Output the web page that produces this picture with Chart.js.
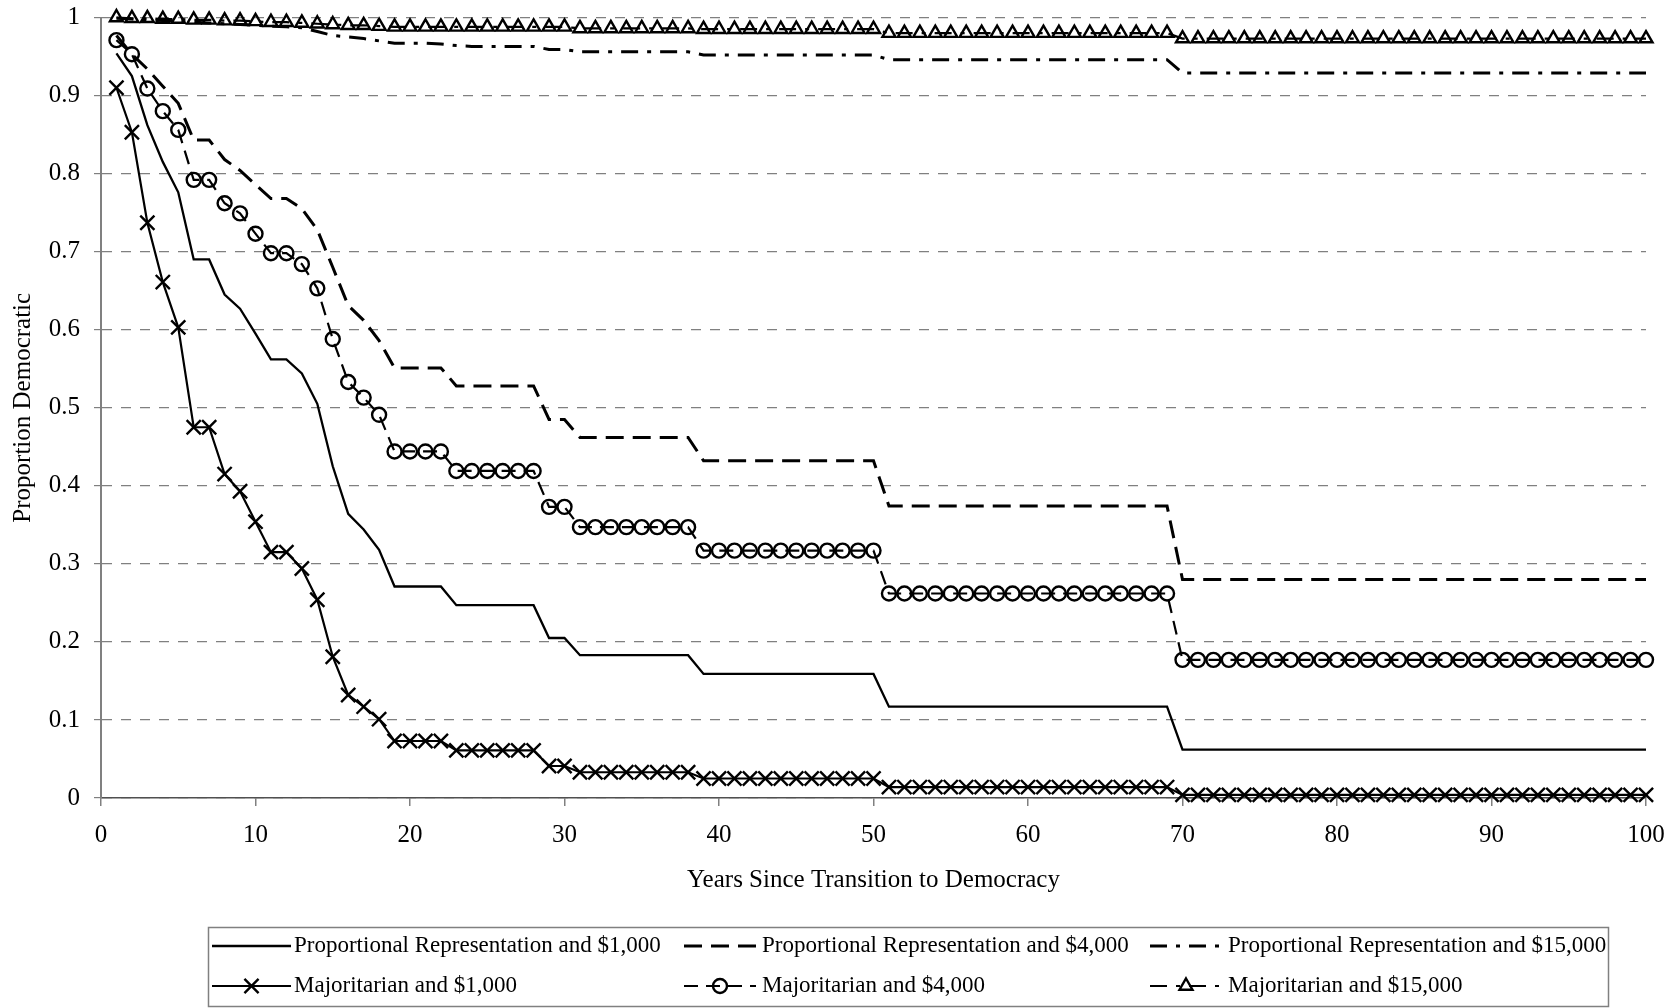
<!DOCTYPE html>
<html>
<head>
<meta charset="utf-8">
<script src="https://cdn.jsdelivr.net/npm/chart.js"></script>
<style>
html,body{margin:0;padding:0;background:#fff;}
#wrap{width:1679px;height:1008px;position:relative;}
canvas{display:block;}
</style>
</head>
<body>
<div id="wrap"><canvas id="c" width="1679" height="1008"></canvas></div>
<script>
// ---- data ----
const years = [1,2,3,4,5,6,7,8,9,10,11,12,13,14,15,16,17,18,19,20,21,22,23,24,25,26,27,28,29,30,31,32,33,34,35,36,37,38,39,40,41,42,43,44,45,46,47,48,49,50,51,52,53,54,55,56,57,58,59,60,61,62,63,64,65,66,67,68,69,70,71,72,73,74,75,76,77,78,79,80,81,82,83,84,85,86,87,88,89,90,91,92,93,94,95,96,97,98,99,100];

const pr1000 = [
0.954,0.925,0.862,0.815,0.776,0.690,0.690,0.645,0.627,0.595,
0.562,0.562,0.544,0.505,0.425,0.364,0.344,0.318,0.271,0.271,
0.271,0.271,0.247,0.247,0.247,0.247,0.247,0.247,0.205,0.205,
0.183,0.183,0.183,0.183,0.183,0.183,0.183,0.183,0.159,0.159,
0.159,0.159,0.159,0.159,0.159,0.159,0.159,0.159,0.159,0.159,
0.117,0.117,0.117,0.117,0.117,0.117,0.117,0.117,0.117,0.117,
0.117,0.117,0.117,0.117,0.117,0.117,0.117,0.117,0.117,0.062,
0.062,0.062,0.062,0.062,0.062,0.062,0.062,0.062,0.062,0.062,
0.062,0.062,0.062,0.062,0.062,0.062,0.062,0.062,0.062,0.062,
0.062,0.062,0.062,0.062,0.062,0.062,0.062,0.062,0.062,0.062];

const pr4000 = [
0.977,0.953,0.934,0.912,0.890,0.843,0.843,0.818,0.804,0.786,
0.768,0.768,0.755,0.728,0.680,0.631,0.612,0.586,0.551,0.551,
0.551,0.551,0.528,0.528,0.528,0.528,0.528,0.528,0.485,0.485,
0.462,0.462,0.462,0.462,0.462,0.462,0.462,0.462,0.432,0.432,
0.432,0.432,0.432,0.432,0.432,0.432,0.432,0.432,0.432,0.432,
0.374,0.374,0.374,0.374,0.374,0.374,0.374,0.374,0.374,0.374,
0.374,0.374,0.374,0.374,0.374,0.374,0.374,0.374,0.374,0.280,
0.280,0.280,0.280,0.280,0.280,0.280,0.280,0.280,0.280,0.280,
0.280,0.280,0.280,0.280,0.280,0.280,0.280,0.280,0.280,0.280,
0.280,0.280,0.280,0.280,0.280,0.280,0.280,0.280,0.280,0.280];

const pr15000 = [
0.999,0.998,0.997,0.996,0.995,0.994,0.993,0.992,0.991,0.990,
0.989,0.988,0.987,0.982,0.977,0.975,0.973,0.970,0.967,0.967,
0.967,0.966,0.964,0.963,0.963,0.963,0.963,0.963,0.959,0.959,
0.956,0.956,0.956,0.956,0.956,0.956,0.956,0.956,0.952,0.952,
0.952,0.952,0.952,0.952,0.952,0.952,0.952,0.952,0.952,0.952,
0.946,0.946,0.946,0.946,0.946,0.946,0.946,0.946,0.946,0.946,
0.946,0.946,0.946,0.946,0.946,0.946,0.946,0.946,0.946,0.929,
0.929,0.929,0.929,0.929,0.929,0.929,0.929,0.929,0.929,0.929,
0.929,0.929,0.929,0.929,0.929,0.929,0.929,0.929,0.929,0.929,
0.929,0.929,0.929,0.929,0.929,0.929,0.929,0.929,0.929,0.929];

const maj1000 = [
0.910,0.853,0.737,0.661,0.603,0.475,0.475,0.415,0.393,0.354,
0.315,0.315,0.294,0.254,0.181,0.132,0.117,0.101,0.073,0.073,
0.073,0.073,0.061,0.061,0.061,0.061,0.061,0.061,0.041,0.041,
0.033,0.033,0.033,0.033,0.033,0.033,0.033,0.033,0.025,0.025,
0.025,0.025,0.025,0.025,0.025,0.025,0.025,0.025,0.025,0.025,
0.014,0.014,0.014,0.014,0.014,0.014,0.014,0.014,0.014,0.014,
0.014,0.014,0.014,0.014,0.014,0.014,0.014,0.014,0.014,0.004,
0.004,0.004,0.004,0.004,0.004,0.004,0.004,0.004,0.004,0.004,
0.004,0.004,0.004,0.004,0.004,0.004,0.004,0.004,0.004,0.004,
0.004,0.004,0.004,0.004,0.004,0.004,0.004,0.004,0.004,0.004];

const maj4000 = [
0.971,0.953,0.909,0.880,0.856,0.792,0.792,0.762,0.749,0.723,
0.698,0.698,0.684,0.653,0.588,0.533,0.513,0.491,0.444,0.444,
0.444,0.444,0.419,0.419,0.419,0.419,0.419,0.419,0.373,0.373,
0.347,0.347,0.347,0.347,0.347,0.347,0.347,0.347,0.317,0.317,
0.317,0.317,0.317,0.317,0.317,0.317,0.317,0.317,0.317,0.317,
0.262,0.262,0.262,0.262,0.262,0.262,0.262,0.262,0.262,0.262,
0.262,0.262,0.262,0.262,0.262,0.262,0.262,0.262,0.262,0.177,
0.177,0.177,0.177,0.177,0.177,0.177,0.177,0.177,0.177,0.177,
0.177,0.177,0.177,0.177,0.177,0.177,0.177,0.177,0.177,0.177,
0.177,0.177,0.177,0.177,0.177,0.177,0.177,0.177,0.177,0.177];

const maj15000 = [
1.000,0.999,0.999,0.998,0.998,0.997,0.997,0.996,0.996,0.995,
0.994,0.994,0.993,0.992,0.991,0.990,0.990,0.989,0.988,0.988,
0.988,0.988,0.988,0.988,0.988,0.988,0.988,0.988,0.988,0.988,
0.986,0.986,0.986,0.986,0.986,0.986,0.986,0.986,0.985,0.985,
0.985,0.985,0.985,0.985,0.985,0.985,0.985,0.985,0.985,0.985,
0.980,0.980,0.980,0.980,0.980,0.980,0.980,0.980,0.980,0.980,
0.980,0.980,0.980,0.980,0.980,0.980,0.980,0.980,0.980,0.973,
0.973,0.973,0.973,0.973,0.973,0.973,0.973,0.973,0.973,0.973,
0.973,0.973,0.973,0.973,0.973,0.973,0.973,0.973,0.973,0.973,
0.973,0.973,0.973,0.973,0.973,0.973,0.973,0.973,0.973,0.973];

const seriesLabels = [
  'Proportional Representation and $1,000',
  'Proportional Representation and $4,000',
  'Proportional Representation and $15,000',
  'Majoritarian and $1,000',
  'Majoritarian and $4,000',
  'Majoritarian and $15,000'
];

const xTicks = [0,10,20,30,40,50,60,70,80,90,100];
const yTicks = [0,0.1,0.2,0.3,0.4,0.5,0.6,0.7,0.8,0.9,1];
const xTitle = 'Years Since Transition to Democracy';
const yTitle = 'Proportion Democratic';

// ---- chart ----
const FONT = "'Liberation Serif', 'Times New Roman', serif";
const toPts = vals => years.map((x, i) => ({x: x, y: vals[i]}));

const DASH = [18, 9];
const DASHDOT = [17, 9, 4, 9];
const MDASH = [14, 8];

const datasets = [
  {label: seriesLabels[0], data: toPts(pr1000), borderWidth: 2.3, borderDash: [], pointRadius: 0, order: 5},
  {label: seriesLabels[1], data: toPts(pr4000), borderWidth: 3, borderDash: DASH, pointRadius: 0, order: 4},
  {label: seriesLabels[2], data: toPts(pr15000), borderWidth: 3, borderDash: DASHDOT, pointRadius: 0, order: 3},
  {label: seriesLabels[3], data: toPts(maj1000), borderWidth: 2.2, borderDash: [], pointStyle: 'crossRot', pointRadius: 10, order: 2},
  {label: seriesLabels[4], data: toPts(maj4000), borderWidth: 2.2, borderDash: MDASH, pointStyle: 'circle', pointRadius: 7, order: 1},
  {label: seriesLabels[5], data: toPts(maj15000), borderWidth: 2.2, borderDash: DASHDOT, pointStyle: 'triangle', pointRadius: 7.5, order: 0}
].map(d => Object.assign({
  borderColor: '#000',
  backgroundColor: 'rgba(0,0,0,0)',
  pointBorderColor: '#000',
  pointBackgroundColor: 'rgba(0,0,0,0)',
  pointBorderWidth: 2.4,
  pointHoverRadius: 0,
  tension: 0,
  fill: false,
  clip: false
}, d));

const boxLegend = {
  id: 'boxLegend',
  afterDraw(chart) {
    const ctx = chart.ctx;
    ctx.save();
    ctx.strokeStyle = '#808080';
    ctx.lineWidth = 1.5;
    ctx.setLineDash([]);
    ctx.strokeRect(208.5, 927.5, 1400, 79);
    const cols = [[212, 291, 294], [684, 756, 762], [1150, 1222, 1228]];
    const rows = [946, 986];
    ctx.font = "23px " + FONT;
    ctx.textBaseline = 'middle';
    ctx.textAlign = 'left';
    chart.data.datasets.forEach((ds, i) => {
      const r = Math.floor(i / 3), c = i % 3;
      const x1 = cols[c][0], x2 = cols[c][1], tx = cols[c][2], y = rows[r];
      ctx.save();
      ctx.strokeStyle = '#000';
      ctx.lineWidth = ds.borderWidth;
      ctx.setLineDash(ds.borderDash || []);
      ctx.beginPath();
      ctx.moveTo(x1, y);
      ctx.lineTo(x2, y);
      ctx.stroke();
      ctx.restore();
      if (ds.pointRadius > 0) {
        ctx.save();
        ctx.strokeStyle = '#000';
        ctx.fillStyle = 'rgba(0,0,0,0)';
        ctx.lineWidth = ds.pointBorderWidth;
        ctx.setLineDash([]);
        Chart.helpers.drawPoint(ctx, {pointStyle: ds.pointStyle, radius: ds.pointRadius, borderWidth: ds.pointBorderWidth, rotation: 0}, (x1 + x2) / 2, y);
        ctx.restore();
      }
      ctx.fillStyle = '#000';
      ctx.fillText(ds.label, tx, y);
    });
    ctx.restore();
  }
};

const fmt = v => String(Math.round(v * 10) / 10);

new Chart(document.getElementById('c'), {
  type: 'line',
  data: {datasets: datasets},
  plugins: [boxLegend],
  options: {
    responsive: false,
    animation: false,
    devicePixelRatio: 1,
    events: [],
    layout: {padding: {left: 0, right: 33, top: 17.5, bottom: 108}},
    plugins: {legend: {display: false}, tooltip: {enabled: false}},
    scales: {
      x: {
        type: 'linear',
        min: 0, max: 100,
        afterBuildTicks: s => { s.ticks = xTicks.map(v => ({value: v})); },
        afterFit: s => { s.height = 102; s.paddingLeft = 0; s.paddingRight = 0; },
        grid: {drawOnChartArea: false, drawTicks: true, tickLength: 8, color: '#808080', lineWidth: 1.5},
        border: {display: true, color: '#505050', width: 1.5},
        ticks: {font: {family: FONT, size: 25}, color: '#000', padding: 14, maxRotation: 0, autoSkip: false, callback: v => String(v)},
        title: {display: true, text: xTitle, font: {family: FONT, size: 25}, color: '#000', padding: {top: 0, bottom: 5}}
      },
      y: {
        type: 'linear',
        min: 0, max: 1,
        afterBuildTicks: s => { s.ticks = yTicks.map(v => ({value: v})); },
        afterFit: s => { s.width = 101; s.paddingTop = 0; s.paddingBottom = 0; },
        grid: {drawOnChartArea: true, drawTicks: true, tickLength: 7, color: '#808080', lineWidth: 1.2, tickColor: '#808080'},
        border: {display: true, color: '#808080', width: 2, dash: [10, 9]},
        ticks: {font: {family: FONT, size: 25}, color: '#000', padding: 14, callback: v => fmt(v)},
        title: {display: true, text: yTitle, font: {family: FONT, size: 25}, color: '#000', padding: {top: 8, bottom: 0}}
      }
    }
  }
});
</script>
</body>
</html>
